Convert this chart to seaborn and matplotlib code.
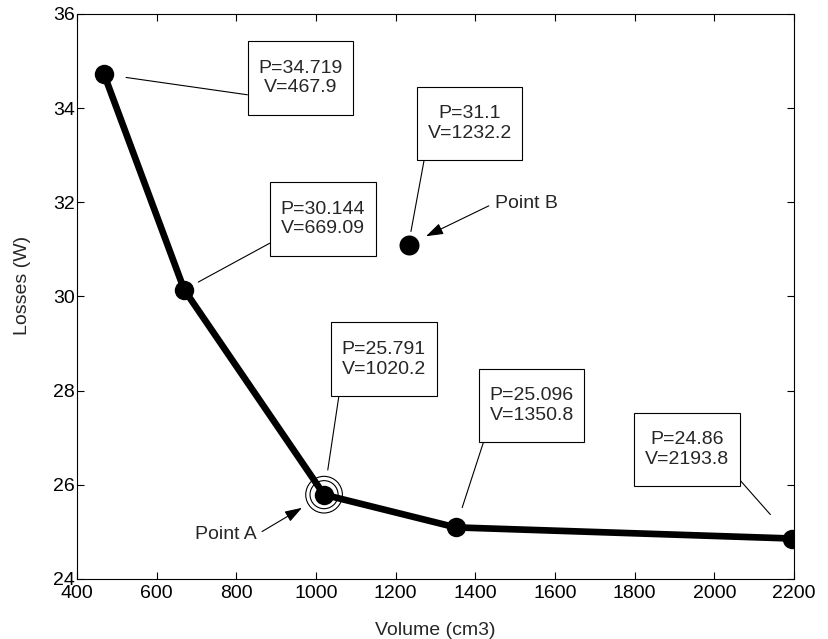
import numpy as np
import pandas as pd
import matplotlib
matplotlib.use("Agg")
import matplotlib.pyplot as plt
from matplotlib.path import Path
import seaborn as sns

# Trade-off curve: core volume versus losses
volume = [467.9, 669.09, 1020.2, 1350.8, 2193.8]
losses = [34.719, 30.144, 25.791, 25.096, 24.86]

# Isolated design
point_b_volume = [1232.2]
point_b_losses = [31.1]

point_a_index = 2

x_ticks = [400, 600, 800, 1000, 1200, 1400, 1600, 1800, 2000, 2200]
y_ticks = [24, 26, 28, 30, 32, 34, 36]

# Label box placement (offset points), leader attach corner, leader gap
curve_label_offsets = [(141.5, -2.7), (100, 51), (43, 97.5), (54.6, 87.8), (-75.2, 64)]
curve_label_corners = [(0, 0), (0, 0), (0, 0), (0, 0), (1, 0)]
curve_label_gaps = [16, 11.5, 18, 15, 23]

sns.set_style("ticks")
plt.rcParams["font.family"] = ["Liberation Sans", "DejaVu Sans"]
plt.rcParams["axes.linewidth"] = 0.8

FS = 14

fig = plt.figure(figsize=(8.29, 6.39), dpi=100)
ax = fig.add_axes([0.0929, 0.0939, 0.8649, 0.8842])

df = pd.DataFrame({"Volume": volume, "Losses": losses})
sns.lineplot(data=df, x="Volume", y="Losses", ax=ax, color="black",
             linewidth=4.8, marker="o", markersize=14, markeredgewidth=0,
             sort=False, zorder=3)

dfb = pd.DataFrame({"Volume": point_b_volume, "Losses": point_b_losses})
sns.scatterplot(data=dfb, x="Volume", y="Losses", ax=ax, color="black",
                s=14.4 ** 2, linewidth=0, zorder=3)

# Double ring around the highlighted design
dfa = df.iloc[[point_a_index]]
for d in (20.2, 26.4):
    sns.scatterplot(data=dfa, x="Volume", y="Losses", ax=ax, s=d ** 2,
                    facecolor="none", edgecolor="black", linewidth=0.8,
                    zorder=4)


def text_box(x0, y0, width, height, mutation_size):
    padx = 0.55 * mutation_size
    pady = 0.95 * mutation_size
    xa, xb = x0 - padx, x0 + width + padx
    ya, yb = y0 - pady, y0 + height + pady
    return Path([(xa, ya), (xb, ya), (xb, yb), (xa, yb), (xa, ya)],
                closed=True)


box_props = dict(boxstyle=text_box, facecolor="white", edgecolor="black",
                 linewidth=0.8)


def label_point(v, p, offset, corner, gap):
    ax.annotate(f"P={p:g}\nV={v:g}", xy=(v, p), xytext=offset,
                textcoords="offset points", ha="center", va="center",
                multialignment="center", fontsize=FS, bbox=box_props,
                zorder=5,
                arrowprops=dict(arrowstyle="-", color="black", lw=0.8,
                                relpos=corner, shrinkA=0, shrinkB=gap))


for v, p, off, cor, gap in zip(volume, losses, curve_label_offsets,
                               curve_label_corners, curve_label_gaps):
    label_point(v, p, off, cor, gap)

label_point(point_b_volume[0], point_b_losses[0], (44, 87.3), (0, 0), 9.7)

arrow = dict(arrowstyle="-|>,head_length=0.75,head_width=0.25",
             color="black", lw=0.8, shrinkA=2)
ax.annotate("Point A", xy=(volume[point_a_index], losses[point_a_index]),
            xytext=(-71, -29), textcoords="offset points", ha="center",
            va="center", fontsize=FS,
            arrowprops=dict(arrow, relpos=(1, 0.5), shrinkB=18.5))
ax.annotate("Point B", xy=(point_b_volume[0], point_b_losses[0]),
            xytext=(84.6, 30), textcoords="offset points", ha="center",
            va="center", fontsize=FS,
            arrowprops=dict(arrow, relpos=(0, 0.5), shrinkB=14))

ax.set_xlim(x_ticks[0], x_ticks[-1])
ax.set_ylim(y_ticks[0], y_ticks[-1])
ax.set_xticks(x_ticks)
ax.set_yticks(y_ticks)
ax.tick_params(axis="both", direction="in", length=5, width=0.8,
               top=True, right=True, labelsize=FS, colors="black")
ax.tick_params(axis="x", pad=4)
ax.tick_params(axis="y", pad=1.5)
for s in ax.spines.values():
    s.set_visible(True)
    s.set_color("black")
    s.set_linewidth(0.8)

ax.set_xlabel("Volume (cm3)", fontsize=FS)
ax.set_ylabel("Losses (W)", fontsize=FS)
ax.xaxis.set_label_coords(0.5, -0.076)
ax.yaxis.set_label_coords(-0.064, 0.519)

fig.savefig("out.png", dpi=100, facecolor="white")
